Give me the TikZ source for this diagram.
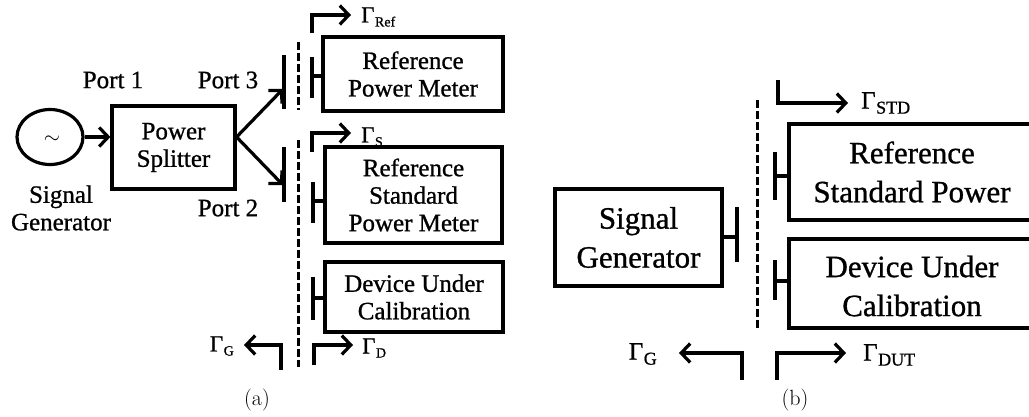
\documentclass[tikz,border=0pt]{standalone}
\usepackage{fontspec}
\newfontfamily\tnr[FakeBold=0.9]{Liberation Serif}
\usetikzlibrary{arrows.meta,shapes.geometric}
\begin{document}
\begin{tikzpicture}[x=1pt,y=-1pt,
  ln/.style={line width=3.2pt},
  box/.style={draw,line width=3.2pt,rectangle,inner sep=0pt,align=center},
  ta/.style={font=\tnr\fontsize{25}{27.5}\selectfont,align=center},
  tb/.style={font=\tnr\fontsize{31}{39}\selectfont,align=center},
  arr/.style={line width=3.2pt,-{Straight Barb[length=9pt,width=19pt]}},
  dline/.style={line width=3pt,dash pattern=on 7.5pt off 3.5pt},
  gla/.style={font=\tnr\fontsize{23}{23}\selectfont,inner sep=0pt},
  glb/.style={font=\tnr\fontsize{25}{25}\selectfont,inner sep=0pt},
  subcap/.style={font=\fontsize{22}{22}\selectfont,inner sep=0pt}
]
\useasboundingbox (0,0) rectangle (1029,416);
\clip (0,0) rectangle (1029,416);

% ---------------- (a) ----------------
\node[draw,ellipse,line width=3.2pt,minimum width=66pt,minimum height=55pt,inner sep=0pt] (gen) at (50,137) {};
\node[font=\fontsize{20}{20}\selectfont] (tilde) at (52,140) {$\sim$};
\node[ta,align=center] (gentxt) at (61,208) {\hfil Signal\hfil\\Generator};
\node[box,ta,minimum width=123pt,minimum height=83pt] (split) at (173.5,147.5) {Power\\Splitter};
\node[ta] (port1) at (113,80) {Port 1};
\node[ta] (port3) at (228,80) {Port 3};
\node[ta] (port2) at (228,208) {Port 2};

\draw[arr] (gen.east) -- (gen.east -| split.west);
\coordinate (fork) at (split.east |- gen.east);
\coordinate (p3t) at (284,55);
\coordinate (p3b) at (284,109);
\coordinate (p3in) at (283,89);
\coordinate (p2t) at (284,147);
\coordinate (p2b) at (284,202);
\coordinate (p2in) at (283,185);
\draw[ln] (p3t) -- (p3b);
\draw[ln] (p2t) -- (p2b);
\draw[arr] (fork) -- (p3in);
\draw[arr] (fork) -- (p2in);

\coordinate (da1) at (298,42);
\coordinate (da2) at (298,110);
\coordinate (da3) at (298,140);
\coordinate (da4) at (298,367);
\draw[dline] (da1) -- (da2);
\draw[dline] (da3) -- (da4);

\node[box,ta,minimum width=180pt,minimum height=74pt] (rpm) at (413,74) {Reference\\Power Meter};
\node[box,ta,minimum width=177pt,minimum height=96pt] (rspm) at (413.5,195) {Reference\\Standard\\Power Meter};
\node[box,ta,minimum width=178pt,minimum height=70pt] (duca) at (414,297) {Device Under\\Calibration};

% T connectors (a)
\coordinate (ta1t) at (312,57); \coordinate (ta1b) at (312,98); \coordinate (ta1m) at (312,76);
\draw[ln] (ta1t) -- (ta1b); \draw[ln] (ta1m) -- (ta1m -| rpm.west);
\coordinate (ta2t) at (313,182); \coordinate (ta2b) at (313,223); \coordinate (ta2m) at (313,201);
\draw[ln] (ta2t) -- (ta2b); \draw[ln] (ta2m) -- (ta2m -| rspm.west);
\coordinate (ta3t) at (313,277); \coordinate (ta3b) at (313,320); \coordinate (ta3m) at (313,298);
\draw[ln] (ta3t) -- (ta3b); \draw[ln] (ta3m) -- (ta3m -| duca.west);

% Gamma arrows (a)
\node[gla,anchor=west] (gref) at (361,17) {Γ\kern0.5pt\raisebox{-4pt}{\fontsize{14}{14}\selectfont Ref}};
\coordinate (r0) at (312,33); \coordinate (r1) at (312,15); \coordinate (r2) at (351,15);
\draw[arr] (r0) -- (r1) -- (r2);
\node[gla,anchor=west] (gs) at (361,137) {Γ\kern0.5pt\raisebox{-4pt}{\fontsize{14}{14}\selectfont S}};
\coordinate (s0) at (312,152); \coordinate (s1) at (312,133); \coordinate (s2) at (351,133);
\draw[arr] (s0) -- (s1) -- (s2);
\node[gla,anchor=east] (gga) at (234,346) {Γ\kern0.5pt\raisebox{-4pt}{\fontsize{14}{14}\selectfont G}};
\coordinate (g0) at (281,370); \coordinate (g1) at (281,345); \coordinate (g2) at (244,345);
\draw[arr] (g0) -- (g1) -- (g2);
\node[gla,anchor=west] (gd) at (362,348) {Γ\kern0.5pt\raisebox{-4pt}{\fontsize{14}{14}\selectfont D}};
\coordinate (d0) at (314,365); \coordinate (d1) at (314,345); \coordinate (d2) at (353,345);
\draw[arr] (d0) -- (d1) -- (d2);

\node[subcap] (capa) at (257,400) {(a)};

% ---------------- (b) ----------------
\node[box,tb,minimum width=167pt,minimum height=97pt] (sg) at (638.5,237.5) {Signal\\Generator};
\coordinate (tsgt) at (737,207); \coordinate (tsgb) at (737,262); \coordinate (tsgm) at (737,237);
\draw[ln] (tsgt) -- (tsgb); \draw[ln] (sg.east |- tsgm) -- (tsgm);

\coordinate (db1) at (757,100); \coordinate (db2) at (757,330);
\draw[dline] (db1) -- (db2);

\node[box,minimum width=251pt,minimum height=96pt] (rsp) at (914.5,172) {};
\node[tb] (rsptxt) at (912,172) {Reference\\Standard Power};
\node[box,minimum width=251pt,minimum height=89pt] (ducb) at (914.5,283.5) {};
\node[tb] (ducbtxt) at (912,286) {Device Under\\Calibration};

\coordinate (tb1t) at (775,152); \coordinate (tb1b) at (775,200); \coordinate (tb1m) at (775,176);
\draw[ln] (tb1t) -- (tb1b); \draw[ln] (tb1m) -- (tb1m -| rsp.west);
\coordinate (tb2t) at (775,260); \coordinate (tb2b) at (775,300); \coordinate (tb2m) at (775,281);
\draw[ln] (tb2t) -- (tb2b); \draw[ln] (tb2m) -- (tb2m -| ducb.west);

\node[glb,anchor=west] (gstd) at (861,103) {Γ\kern0.5pt\raisebox{-5pt}{\fontsize{18}{18}\selectfont STD}};
\coordinate (t0) at (778,80); \coordinate (t1) at (778,103); \coordinate (t2) at (848,103);
\draw[arr] (t0) -- (t1) -- (t2);
\node[glb,anchor=east] (ggb) at (657,354) {Γ\kern0.5pt\raisebox{-5pt}{\fontsize{18}{18}\selectfont G}};
\coordinate (h0) at (742,380); \coordinate (h1) at (742,353); \coordinate (h2) at (679,353);
\draw[arr] (h0) -- (h1) -- (h2);
\node[glb,anchor=west] (gdut) at (863,355) {Γ\kern0.5pt\raisebox{-5pt}{\fontsize{18}{18}\selectfont DUT}};
\coordinate (u0) at (777,380); \coordinate (u1) at (777,353); \coordinate (u2) at (846,353);
\draw[arr] (u0) -- (u1) -- (u2);

\node[subcap] (capb) at (795,400) {(b)};
\end{tikzpicture}
\end{document}
